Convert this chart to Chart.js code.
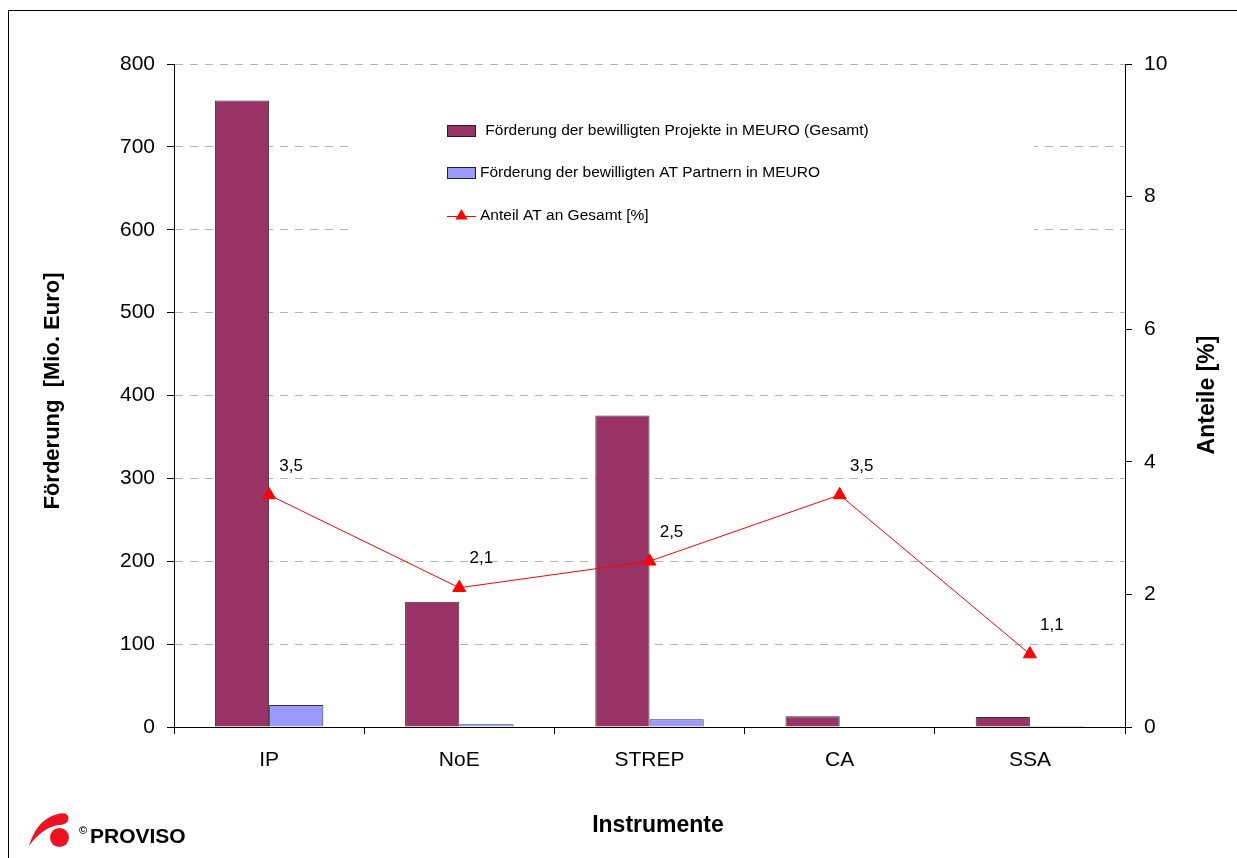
<!DOCTYPE html>
<html>
<head>
<meta charset="utf-8">
<script src="https://cdn.jsdelivr.net/npm/chart.js@4"></script>
<style>
  html, body { margin: 0; padding: 0; background: #fff; }
  #wrap { width: 1237px; height: 858px; }
</style>
</head>
<body>
<div id="wrap"><canvas id="chart" width="1237" height="858"></canvas></div>
<script>
// Instrumente und Förderungen
const instrumente = ['IP', 'NoE', 'STREP', 'CA', 'SSA'];
const foerderungGesamt = [756, 151, 376, 13, 12];
const foerderungAT = [26.5, 3.2, 9.4, 0.5, 0.1];
const anteilAT = [3.5, 2.1, 2.5, 3.5, 1.1];

const legendLabels = [
    ' Förderung der bewilligten Projekte in MEURO (Gesamt)',
    'Förderung der bewilligten AT Partnern in MEURO',
    'Anteil AT an Gesamt [%]'
];

const FONT = "'Liberation Sans', Arial, sans-serif";
const MAROON = '#993366';
const LILAC = '#9999ff';
const RED = '#ff0000';

function triangle(ctx, x, y, r) {
    ctx.beginPath();
    ctx.moveTo(x, y - r);
    ctx.lineTo(x + r * 0.866, y + r * 0.5);
    ctx.lineTo(x - r * 0.866, y + r * 0.5);
    ctx.closePath();
    ctx.fill();
}

// white box behind the legend hides the grid lines there
const legendBack = {
    id: 'legendBack',
    beforeDatasetsDraw(chart) {
        const ctx = chart.ctx;
        ctx.save();
        ctx.fillStyle = '#fff';
        ctx.fillRect(352, 80, 682, 182);
        ctx.restore();
    }
};

const extras = {
    id: 'extras',
    afterDraw(chart) {
        const ctx = chart.ctx;
        ctx.save();

        // frame
        ctx.strokeStyle = '#000';
        ctx.lineWidth = 1;
        ctx.strokeRect(8.5, 10.5, 1300, 900);

        // value labels of the line
        const meta = chart.getDatasetMeta(2);
        ctx.fillStyle = '#000';
        ctx.font = '17px ' + FONT;
        ctx.textAlign = 'center';
        ctx.textBaseline = 'middle';
        meta.data.forEach((pt, i) => {
            ctx.fillText(String(anteilAT[i]).replace('.', ','), pt.x + 22, pt.y - 29);
        });

        // legend
        ctx.textAlign = 'left';
        ctx.font = '15.5px ' + FONT;
        const lx = 447, ly = [131, 173, 216];
        ctx.lineWidth = 1;
        ctx.strokeStyle = '#222';
        ctx.fillStyle = MAROON;
        ctx.fillRect(lx + 0.5, ly[0] - 5.5, 28, 11);
        ctx.strokeRect(lx + 0.5, ly[0] - 5.5, 28, 11);
        ctx.fillStyle = LILAC;
        ctx.fillRect(lx + 0.5, ly[1] - 5.5, 28, 11);
        ctx.strokeRect(lx + 0.5, ly[1] - 5.5, 28, 11);
        ctx.strokeStyle = RED;
        ctx.beginPath();
        ctx.moveTo(lx, ly[2] + 0.5);
        ctx.lineTo(lx + 29, ly[2] + 0.5);
        ctx.stroke();
        ctx.fillStyle = RED;
        triangle(ctx, lx + 14.5, ly[2], 7);
        ctx.fillStyle = '#000';
        ctx.fillText(legendLabels[0], 481, ly[0]);
        ctx.fillText(legendLabels[1], 480, ly[1]);
        ctx.fillText(legendLabels[2], 480, ly[2]);

        // axis titles
        ctx.font = 'bold 22px ' + FONT;
        ctx.textAlign = 'center';
        ctx.save();
        ctx.translate(53, 391);
        ctx.rotate(-Math.PI / 2);
        ctx.fillText('Förderung  [Mio. Euro]', 0, 0);
        ctx.restore();
        ctx.font = 'bold 23px ' + FONT;
        ctx.save();
        ctx.translate(1208, 395);
        ctx.rotate(-Math.PI / 2);
        ctx.fillText('Anteile [%]', 0, 0);
        ctx.restore();
        ctx.fillText('Instrumente', 658, 826);

        // logo
        ctx.fillStyle = '#ee1122';
        ctx.beginPath();
        ctx.moveTo(29, 846);
        ctx.quadraticCurveTo(37, 818, 60, 813.5);
        ctx.quadraticCurveTo(69, 812.5, 68.5, 819);
        ctx.quadraticCurveTo(67.5, 825, 58, 825);
        ctx.quadraticCurveTo(42, 828, 29, 846);
        ctx.fill();
        ctx.beginPath();
        ctx.arc(59.5, 837.5, 9.5, 0, Math.PI * 2);
        ctx.fill();
        ctx.fillStyle = '#000';
        ctx.textAlign = 'left';
        ctx.textBaseline = 'alphabetic';
        ctx.font = 'bold 11px ' + FONT;
        ctx.fillText('©', 79, 834);
        ctx.font = 'bold 21px ' + FONT;
        ctx.fillText('PROVISO', 90, 843);

        ctx.restore();
    }
};

new Chart(document.getElementById('chart'), {
    type: 'bar',
    data: {
        labels: instrumente,
        datasets: [
            {
                label: legendLabels[0],
                data: foerderungGesamt,
                backgroundColor: MAROON,
                borderColor: '#333',
                borderWidth: 1,
                yAxisID: 'y',
                order: 2
            },
            {
                label: legendLabels[1],
                data: foerderungAT,
                backgroundColor: LILAC,
                borderColor: '#333',
                borderWidth: 1,
                yAxisID: 'y',
                order: 2
            },
            {
                type: 'line',
                label: legendLabels[2],
                data: anteilAT,
                borderColor: RED,
                backgroundColor: RED,
                borderWidth: 1,
                pointStyle: 'triangle',
                pointRadius: 7.5,
                pointHoverRadius: 7.5,
                tension: 0,
                yAxisID: 'y1',
                order: 1
            }
        ]
    },
    options: {
        responsive: false,
        animation: false,
        events: [],
        categoryPercentage: 0.57,
        barPercentage: 1.0,
        layout: { padding: { top: 64, left: 0, right: 0, bottom: 0 } },
        plugins: {
            legend: { display: false },
            tooltip: { enabled: false }
        },
        scales: {
            x: {
                afterFit: (s) => { s.height = 131; },
                grid: { drawOnChartArea: false, offset: true, tickLength: 7, tickColor: '#000' },
                border: { color: '#000', width: 1 },
                ticks: { color: '#000', padding: 14, font: { family: FONT, size: 21 } }
            },
            y: {
                position: 'left',
                min: 0,
                max: 800,
                afterFit: (s) => { s.width = 174; },
                grid: { color: '#b4b4b4', lineWidth: 1, tickLength: 7, tickColor: '#000' },
                border: { color: '#000', width: 1, dash: [8, 7] },
                ticks: { stepSize: 100, color: '#000', padding: 12, font: { family: FONT, size: 21 } }
            },
            y1: {
                position: 'right',
                min: 0,
                max: 10,
                afterFit: (s) => { s.width = 112; },
                grid: { drawOnChartArea: false, tickLength: 7, tickColor: '#000' },
                border: { color: '#000', width: 1 },
                ticks: { stepSize: 2, color: '#000', padding: 12, font: { family: FONT, size: 21 } }
            }
        }
    },
    plugins: [legendBack, extras]
});
</script>
</body>
</html>
